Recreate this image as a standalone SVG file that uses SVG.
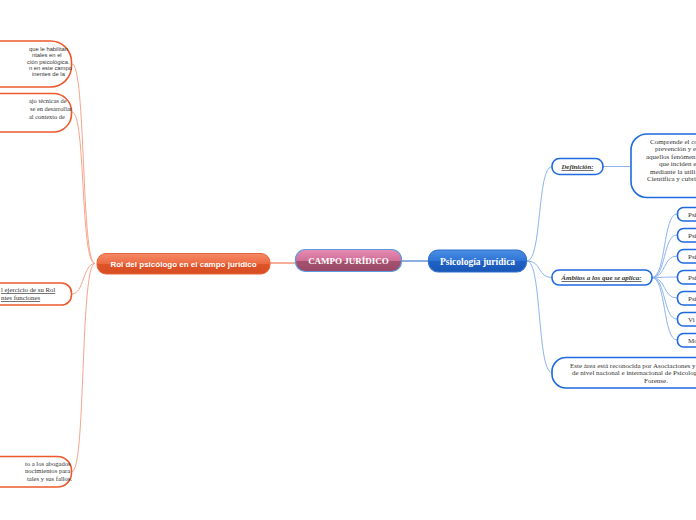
<svg xmlns="http://www.w3.org/2000/svg" width="696" height="520" viewBox="0 0 696 520">
<defs>
<linearGradient id="gPink" x1="0" y1="0" x2="0" y2="1">
<stop offset="0" stop-color="#e88db2"/><stop offset="0.5" stop-color="#d06f98"/><stop offset="0.52" stop-color="#a5526f"/><stop offset="1" stop-color="#9a4866"/>
</linearGradient>
<linearGradient id="gBlue" x1="0" y1="0" x2="0" y2="1">
<stop offset="0" stop-color="#4a8ee2"/><stop offset="0.5" stop-color="#2f74d6"/><stop offset="0.52" stop-color="#1f62c6"/><stop offset="1" stop-color="#1a56b4"/>
</linearGradient>
<linearGradient id="gOrange" x1="0" y1="0" x2="0" y2="1">
<stop offset="0" stop-color="#f58a66"/><stop offset="0.5" stop-color="#ec6a42"/><stop offset="0.52" stop-color="#e0542a"/><stop offset="1" stop-color="#d84c22"/>
</linearGradient>
</defs>
<style>
.lo{fill:#fff;stroke:#ec5a2c;stroke-width:1.6}
.ro{fill:#fff;stroke:#1e6ade;stroke-width:1.6}
.cl{fill:none;stroke:#f6a58c;stroke-width:1}
.cr{fill:none;stroke:#8db4ee;stroke-width:1}
.sans{font-family:"Liberation Sans",Arial,sans-serif;fill:#333}
.serif{font-family:"Liberation Serif","Times New Roman",serif;fill:#333}
.hd{font-family:"Liberation Serif","Times New Roman",serif;font-weight:bold;fill:#fff}
</style>
<rect width="696" height="520" fill="#ffffff"/>
<g id="connectors">
<line x1="270" y1="263" x2="295" y2="263" stroke="#ef7a55" stroke-width="1.2"/>
<line x1="402" y1="261" x2="428" y2="261" stroke="#3f7bd3" stroke-width="1.2"/>
<path class="cl" d="M95,263.5 C81,263.5 86,64 72,64"/>
<path class="cl" d="M95,263.5 C80,263.5 86,112 72,112"/>
<path class="cl" d="M95,263.5 C83,263.5 84,294 72,294"/>
<path class="cl" d="M95,263.5 C80,263.5 86,471.5 72,471.5"/>
<path class="cr" d="M527,261 C542,261 537,166.5 552,166.5"/>
<path class="cr" d="M527,261 C542,261 537,277.5 552,277.5"/>
<path class="cr" d="M527,261 C542,261 537,372.5 552,372.5"/>
<line class="cr" x1="603" y1="166.5" x2="631" y2="166.5"/>
<path class="cr" d="M652,277.5 C666,277.5 663,214 677,214"/>
<path class="cr" d="M652,277.5 C666,277.5 663,235 677,235"/>
<path class="cr" d="M652,277.5 C666,277.5 663,256 677,256"/>
<path class="cr" d="M652,277.5 C666,277.5 663,277 677,277"/>
<path class="cr" d="M652,277.5 C666,277.5 663,298 677,298"/>
<path class="cr" d="M652,277.5 C666,277.5 663,319 677,319"/>
<path class="cr" d="M652,277.5 C666,277.5 663,340 677,340"/>
</g>
<g id="campo">
<rect x="295.5" y="249.5" width="106" height="22" rx="10" fill="url(#gPink)" stroke="#5c9be0" stroke-width="1.2"/>
<text class="hd" x="348.5" y="264" font-size="9" text-anchor="middle">CAMPO JURÍDICO</text>
</g>
<g id="psicologia">
<rect x="428.5" y="250" width="98" height="22" rx="10" fill="url(#gBlue)" stroke="#2f6fd0" stroke-width="1.2"/>
<text class="hd" x="477.5" y="264.5" font-size="9.5" text-anchor="middle">Psicología jurídica</text>
</g>
<g id="rol">
<rect x="97" y="253.5" width="173" height="20.5" rx="9" fill="url(#gOrange)" stroke="#e8643a" stroke-width="1"/>
<text x="183.5" y="266.5" font-size="8" font-weight="bold" fill="#fff" font-family="Liberation Sans, Arial, sans-serif" text-anchor="middle">Rol del psicólogo en el campo jurídico</text>
</g>
<g id="left1">
<rect class="lo" x="-100" y="41" width="171.5" height="46" rx="21"/>
<text class="sans" font-size="5.8"><tspan x="29" y="51">que le habilitan</tspan><tspan x="32" y="57.3">ntales en el</tspan><tspan x="27" y="63.6">ción psicológica.</tspan><tspan x="29" y="69.9">n en este campo</tspan><tspan x="32" y="76.2">inentes de la</tspan></text>
</g>
<g id="left2">
<rect class="lo" x="-100" y="93.5" width="171.5" height="38.5" rx="18"/>
<text class="serif" font-size="6.4"><tspan x="29" y="102.5">ajo técnicas de</tspan><tspan x="30" y="110.5">se en desarrollar</tspan><tspan x="29" y="118.5">al contexto de</tspan></text>
</g>
<g id="left3">
<rect class="lo" x="-100" y="283" width="171.5" height="22" rx="10"/>
<text class="serif" font-size="6.8" text-decoration="underline"><tspan x="1" y="292">l ejercicio de su Rol</tspan><tspan x="1" y="300">ntes funciones</tspan></text>
</g>
<g id="left4">
<rect class="lo" x="-100" y="456.5" width="171.5" height="30.5" rx="14"/>
<text class="serif" font-size="6.6" fill="#222"><tspan x="25" y="465.5">to a los abogados</tspan><tspan x="25" y="473">nocimientos para</tspan><tspan x="27" y="480.5">tales y sus fallos.</tspan></text>
</g>
<g id="definicion">
<rect class="ro" x="552" y="158.5" width="51" height="16" rx="7.5"/>
<text class="serif" x="577.5" y="169" font-size="6.8" font-weight="bold" font-style="italic" text-decoration="underline" text-anchor="middle">Definición:</text>
</g>
<g id="definicion-texto">
<rect class="ro" x="631" y="134" width="120" height="63.5" rx="16"/>
<text class="serif" font-size="7"><tspan x="650" y="143.5">Comprende el co</tspan><tspan x="655" y="151">prevención y en</tspan><tspan x="646" y="158.5">aquellos fenómen</tspan><tspan x="659" y="166">que inciden en</tspan><tspan x="650" y="173.5">mediante la utili</tspan><tspan x="647" y="181">Científica y cubri</tspan></text>
</g>
<g id="ambitos">
<rect class="ro" x="552" y="270" width="100" height="15" rx="7"/>
<text class="serif" x="601.5" y="280" font-size="7" font-weight="bold" font-style="italic" text-decoration="underline" text-anchor="middle">Ámbitos a los que se aplica:</text>
</g>
<g id="ambito1"><rect class="ro" x="677.5" y="207.5" width="60" height="13.5" rx="6"/><text class="serif" x="688" y="216.5" font-size="7">Psi</text></g>
<g id="ambito2"><rect class="ro" x="677.5" y="228.5" width="60" height="13.5" rx="6"/><text class="serif" x="688" y="237.5" font-size="7">Psi</text></g>
<g id="ambito3"><rect class="ro" x="677.5" y="249.5" width="60" height="13.5" rx="6"/><text class="serif" x="688" y="258.5" font-size="7">Psi</text></g>
<g id="ambito4"><rect class="ro" x="677.5" y="270.5" width="60" height="13.5" rx="6"/><text class="serif" x="688" y="279.5" font-size="7">Psi</text></g>
<g id="ambito5"><rect class="ro" x="677.5" y="291.5" width="60" height="13.5" rx="6"/><text class="serif" x="688" y="300.5" font-size="7">Psi</text></g>
<g id="ambito6"><rect class="ro" x="677.5" y="312.5" width="60" height="13.5" rx="6"/><text class="serif" x="688" y="321.5" font-size="7">Vi</text></g>
<g id="ambito7"><rect class="ro" x="677.5" y="333.5" width="60" height="13.5" rx="6"/><text class="serif" x="688" y="342.5" font-size="7">Mo</text></g>
<g id="reconocida">
<rect class="ro" x="552" y="357.5" width="200" height="30.5" rx="14"/>
<text class="serif" font-size="7"><tspan x="570" y="367.5">Este área está reconocida por Asociaciones y</tspan><tspan x="572" y="375">de nivel nacional e internacional de Psicolog</tspan><tspan x="656" y="382.5" text-anchor="middle">Forense.</tspan></text>
</g>
</svg>
